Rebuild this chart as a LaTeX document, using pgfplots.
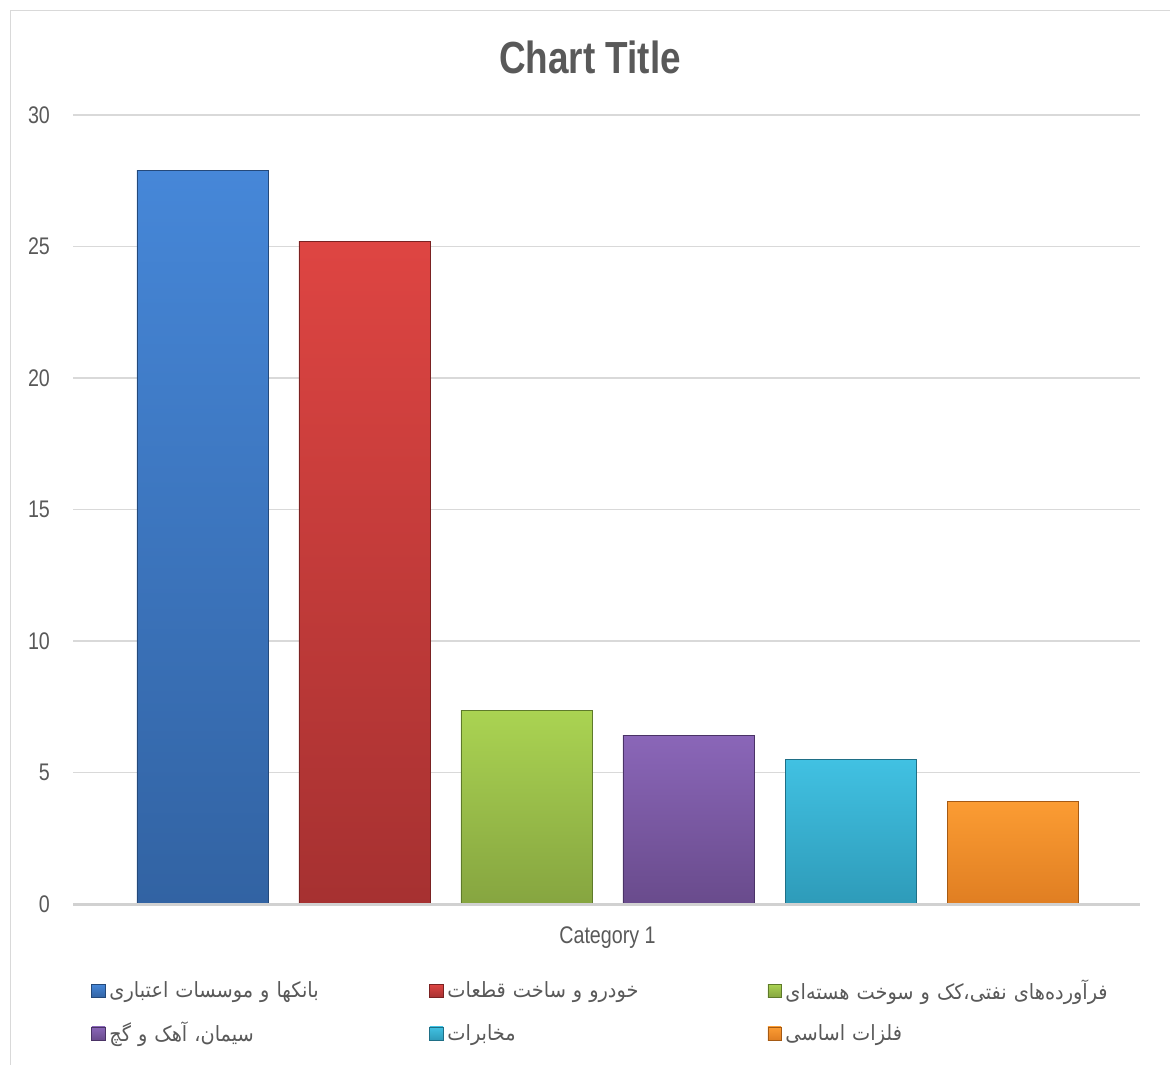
\documentclass[border=0pt]{standalone}
\usepackage{fontspec}
\usepackage{pgfplots}
\pgfplotsset{compat=1.18}
\setmainfont{Liberation Sans}[FakeStretch=0.82]
\newfontfamily\arabicfont[Script=Arabic,FakeStretch=0.92]{DejaVu Sans}
\TeXXeTstate=1
\definecolor{bT}{HTML}{4687D8}\definecolor{bB}{HTML}{3263A3}\definecolor{bD}{HTML}{24497A}
\definecolor{rT}{HTML}{DE4542}\definecolor{rB}{HTML}{A63131}\definecolor{rD}{HTML}{7A2222}
\definecolor{gT}{HTML}{AAD352}\definecolor{gB}{HTML}{86A540}\definecolor{gD}{HTML}{5E7A2A}
\definecolor{pT}{HTML}{8A66B8}\definecolor{pB}{HTML}{694B8C}\definecolor{pD}{HTML}{4A3366}
\definecolor{cT}{HTML}{41C1E2}\definecolor{cB}{HTML}{2E9BB9}\definecolor{cD}{HTML}{1F6F86}
\definecolor{oT}{HTML}{FB9C33}\definecolor{oB}{HTML}{E07E22}\definecolor{oD}{HTML}{A55A14}
\definecolor{txt}{HTML}{595959}
\begin{document}
\begin{tikzpicture}
\useasboundingbox (0,0) rectangle (585pt,-532pt);
\draw[black!15] (5pt,-5pt) rectangle (600pt,-540pt);
\node[font=\bfseries\fontsize{22.5}{26}\selectfont, text=txt] at (295pt,-28.5pt) {Chart Title};
\begin{axis}[
  at={(36.5pt,-452pt)}, anchor=south west,
  scale only axis, width=533.5pt, height=394.5pt,
  xmin=-0.799, xmax=5.787, ymin=0, ymax=30,
  ytick={0,5,...,30}, xtick={2.5}, xticklabels={Category 1},
  ybar, bar width=65.5pt,
  axis line style={draw=none},
  major tick length=0pt,
  ymajorgrids, grid style={black!15, line width=0.8pt},
  /pgf/number format/assume math mode=true,
  tick label style={font=\fontsize{12}{14}\selectfont, text=txt},
  yticklabel style={xshift=-8pt},
  xticklabel style={yshift=-8pt},
  clip=false,
  legend columns=3,
  legend style={at={(0.4925,-0.085)}, anchor=north, draw=none, fill=none,
    row sep=6pt,
    /tikz/every even column/.append style={column sep=0pt},
    nodes={text width=158pt, align=left, font=\arabicfont\fontsize{10.5}{12}\selectfont, text=txt, inner xsep=2pt}},
  legend image code/.code={\fill[#1] (0pt,-3.3pt) rectangle (6.6pt,3.3pt);},
]
\addplot[bar shift=0pt, top color=bT, bottom color=bB, draw=bD, line width=0.4pt] coordinates {(0,27.9)};
\addplot[bar shift=0pt, top color=rT, bottom color=rB, draw=rD, line width=0.4pt] coordinates {(1,25.2)};
\addplot[bar shift=0pt, top color=gT, bottom color=gB, draw=gD, line width=0.4pt] coordinates {(2,7.35)};
\addplot[bar shift=0pt, top color=pT, bottom color=pB, draw=pD, line width=0.4pt] coordinates {(3,6.4)};
\addplot[bar shift=0pt, top color=cT, bottom color=cB, draw=cD, line width=0.4pt] coordinates {(4,5.5)};
\addplot[bar shift=0pt, top color=oT, bottom color=oB, draw=oD, line width=0.4pt] coordinates {(5,3.9)};
\legend{\mbox{\beginR بانکها و موسسات اعتباری\endR},
        \mbox{\beginR خودرو و ساخت قطعات\endR},
        \mbox{\beginR فرآورده‌های نفتی،کک و سوخت هسته‌ای\endR},
        \mbox{\beginR سیمان، آهک و گچ\endR},
        \mbox{\beginR مخابرات\endR},
        \mbox{\beginR فلزات اساسی\endR}}
\draw[black!18, line width=1.5pt] (axis cs:-0.799,0) -- (axis cs:5.787,0);
\end{axis}
\end{tikzpicture}
\end{document}
